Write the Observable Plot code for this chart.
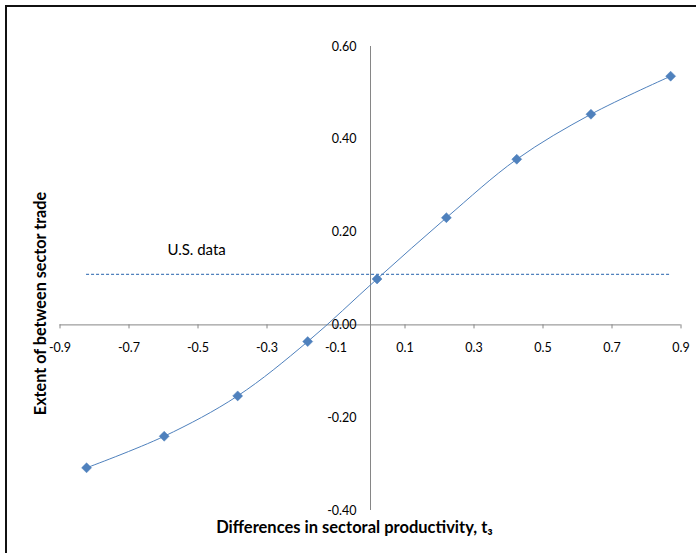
<!DOCTYPE html>
<html>
<head>
<meta charset="utf-8">
<script src="https://cdn.jsdelivr.net/npm/d3@7"></script>
<script src="https://cdn.jsdelivr.net/npm/@observablehq/plot@0.6"></script>
<style>
  html, body { margin: 0; padding: 0; background: #fff; overflow: hidden; }
  #wrap { position: relative; width: 696px; height: 553px; }
  #border { position: absolute; left: 5px; top: 5px; width: 720px; height: 580px; border: 2px solid #111; box-sizing: border-box; }
  #chart { position: absolute; left: 0; top: 0; }
</style>
</head>
<body>
<div id="wrap"><div id="border"></div><div id="chart"></div></div>
<script>
// Data
const xValues = [-0.823, -0.598, -0.385, -0.182, 0.019, 0.220, 0.424, 0.639, 0.870];
const yValues = [-0.308, -0.240, -0.153, -0.036, 0.099, 0.231, 0.357, 0.454, 0.536];
const usData = 0.109;
const usLabel = "U.S. data";
const usLabelX = -0.504;
const usLabelY = 0.161;
const xTicks = [-0.9, -0.7, -0.5, -0.3, -0.1, 0.1, 0.3, 0.5, 0.7, 0.9];
const yTicks = [-0.4, -0.2, 0.0, 0.2, 0.4, 0.6];
const xTitle = "Differences in sectoral productivity, t\u2083";
const yTitle = "Extent of between sector trade";

const points = xValues.map((x, i) => ({x, y: yValues[i]}));
const font = "Lato, 'Open Sans', sans-serif";
const blue = "#4f81bd";
const axisGray = "#868686";

const chart = Plot.plot({
  width: 696,
  height: 553,
  marginLeft: 59.5,
  marginRight: 15.5,
  marginTop: 46,
  marginBottom: 43,
  style: {fontFamily: font, background: "transparent"},
  x: {domain: [-0.9, 0.9], axis: null},
  y: {domain: [-0.4, 0.6], axis: null},
  marks: [
    // axes through the origin
    Plot.ruleY([0], {x1: xTicks[0], x2: xTicks[xTicks.length - 1], stroke: axisGray, strokeWidth: 1}),
    Plot.ruleX([0], {y1: yTicks[0], y2: yTicks[yTicks.length - 1], stroke: axisGray, strokeWidth: 1}),
    Plot.ruleX(xTicks, {x: d => d, y1: 0, y2: 0, insetBottom: -4, stroke: axisGray, strokeWidth: 1}),
    Plot.text(xTicks, {x: d => d, y: 0, dy: 23, text: d => d.toFixed(1), fontSize: 12.5, fill: "#000"}),
    Plot.text(yTicks, {x: 0, y: d => d, dx: -14, textAnchor: "end", text: d => d.toFixed(2), fontSize: 12.5, fill: "#000"}),
    // U.S. data reference line
    Plot.ruleY([usData], {x1: d3.min(xValues), x2: d3.max(xValues), stroke: blue, strokeWidth: 1.3, strokeDasharray: "3,2"}),
    Plot.text([usLabel], {x: usLabelX, y: usLabelY, text: d => d, fontSize: 15, fill: "#000"}),
    // smoothed curve + markers
    Plot.line(points, {x: "x", y: "y", curve: "catmull-rom", stroke: blue, strokeWidth: 1}),
    Plot.dot(points, {x: "x", y: "y", symbol: "diamond2", r: 4.5, fill: blue, stroke: blue, strokeWidth: 0.5}),
    // titles
    Plot.text([xTitle], {frameAnchor: "bottom", dx: -16, dy: 22.5, text: d => d, fontSize: 16.5, fontWeight: "bold", fill: "#000"}),
    Plot.text([yTitle], {frameAnchor: "left", textAnchor: "middle", dx: -19.5, dy: 25, rotate: -90, text: d => d, fontSize: 16.2, fontWeight: "bold", fill: "#000"})
  ]
});
document.getElementById("chart").appendChild(chart);
</script>
</body>
</html>
